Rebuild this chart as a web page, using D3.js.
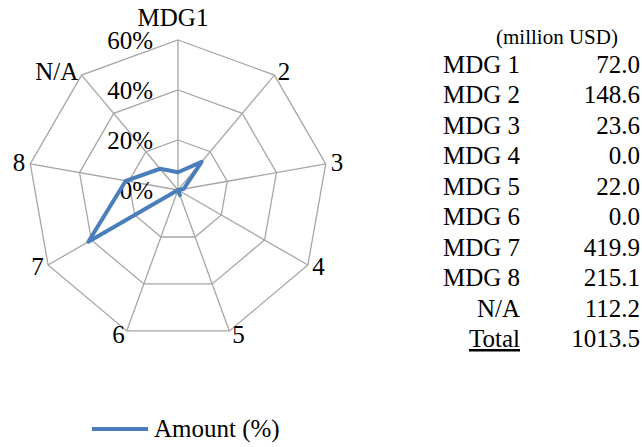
<!DOCTYPE html>
<html>
<head>
<meta charset="utf-8">
<script src="https://cdn.jsdelivr.net/npm/d3@7"></script>
<style>
  body { margin: 0; background: #fff; }
</style>
</head>
<body>
<div id="chart"></div>
<script>
// axis names around the radar (clockwise from top)
var axisLabels = ["MDG1", "2", "3", "4", "5", "6", "7", "8", "N/A"];
// share of total amount, percent
var amountPct = [7.1, 14.7, 2.3, 0.0, 2.2, 0.0, 41.4, 21.2, 11.1];
var tickValues = [0, 20, 40, 60];

// table on the right
var tableNames = ["MDG 1", "MDG 2", "MDG 3", "MDG 4", "MDG 5", "MDG 6", "MDG 7", "MDG 8", "N/A", "Total"];
var tableAmounts = ["72.0", "148.6", "23.6", "0.0", "22.0", "0.0", "419.9", "215.1", "112.2", "1013.5"];

var svgWidth = 642;
var svgHeight = 447;

var cx = 178, cy = 190, R = 150;

// pick a serif font that is really installed
function hasFont(name) {
  var ctx = document.createElement("canvas").getContext("2d");
  var s = "MDG1 Total 0123456789 (million USD) %";
  return ["monospace", "sans-serif"].some(function(base) {
    ctx.font = "40px " + base;
    var w0 = ctx.measureText(s).width;
    ctx.font = "40px '" + name + "', " + base;
    return ctx.measureText(s).width !== w0;
  });
}
var serifList = ["Liberation Serif", "Times New Roman", "Tinos", "DejaVu Serif", "Noto Serif", "FreeSerif", "Nimbus Roman"];
var found = serifList.filter(hasFont)[0];
var fontFamily = found ? "'" + found + "', serif" : "'Liberation Sans', Arial, sans-serif";
var fs = found ? 25 : 23;      // main text size
var fsSmall = found ? 21 : 19; // "(million USD)"

var svg = d3.select("#chart")
  .append("svg")
  .attr("width", svgWidth)
  .attr("height", svgHeight)
  .style("font-family", fontFamily);

var rScale = d3.scaleLinear()
  .domain([0, 60])
  .range([0, R]);

var angle = d3.scalePoint()
  .domain(d3.range(axisLabels.length + 1))
  .range([0, 2 * Math.PI]);

function px(i, v) { return cx + rScale(v) * Math.sin(angle(i)); }
function py(i, v) { return cy - rScale(v) * Math.cos(angle(i)); }

var chartGroup = svg.append("g");

// grid rings
tickValues.filter(t => t > 0).forEach(function(t) {
  var pts = axisLabels.map((d, i) => [px(i, t), py(i, t)]);
  chartGroup.append("polygon")
    .attr("points", pts.map(p => p.join(",")).join(" "))
    .attr("fill", "none")
    .attr("stroke", "#a6a6a6")
    .attr("stroke-width", 1.3);
});

// spokes
chartGroup.selectAll("line.spoke")
  .data(axisLabels)
  .enter()
  .append("line")
  .attr("x1", cx).attr("y1", cy)
  .attr("x2", (d, i) => px(i, 60))
  .attr("y2", (d, i) => py(i, 60))
  .attr("stroke", "#a6a6a6")
  .attr("stroke-width", 1.3);

// tick labels
chartGroup.selectAll("text.tick")
  .data(tickValues)
  .enter()
  .append("text")
  .attr("x", cx - 25)
  .attr("y", d => cy - rScale(d) + 9)
  .attr("text-anchor", "end")
  .style("font-size", fs + "px")
  .text(d => d + "%");

// category labels
chartGroup.selectAll("text.cat")
  .data(axisLabels)
  .enter()
  .append("text")
  .attr("x", function(d, i) {
    var s = Math.sin(angle(i));
    if (Math.abs(s) < 0.1) return px(i, 60) - 5;
    return px(i, 60) + (s > 0 ? Math.max(3, 5 * s) : Math.min(-2, 5 * s));
  })
  .attr("y", function(d, i) {
    var c = Math.cos(angle(i));
    return py(i, 60) + (c > 0.9 ? -14 : 8 - 4 * c);
  })
  .attr("text-anchor", function(d, i) {
    var s = Math.sin(angle(i));
    return Math.abs(s) < 0.1 ? "middle" : (s > 0 ? "start" : "end");
  })
  .style("font-size", fs + "px")
  .text(d => d);

// series line
var radarLine = d3.lineRadial()
  .angle((d, i) => angle(i))
  .radius(d => rScale(d))
  .curve(d3.curveLinearClosed);

chartGroup.append("path")
  .datum(amountPct)
  .attr("transform", `translate(${cx}, ${cy})`)
  .attr("d", radarLine)
  .attr("fill", "none")
  .attr("stroke", "#4a7ebb")
  .attr("stroke-width", 4)
  .attr("stroke-linejoin", "round");

// legend
var legend = svg.append("g").attr("transform", "translate(92, 429)");
legend.append("line")
  .attr("x1", 0).attr("x2", 56)
  .attr("stroke", "#4a7ebb")
  .attr("stroke-width", 4);
legend.append("text")
  .attr("x", 62).attr("y", 8)
  .style("font-size", fs + "px")
  .text("Amount (%)");

// table
var rowY = d3.scalePoint()
  .domain(tableNames)
  .range([72.5, 347]);

svg.append("text")
  .attr("x", 557).attr("y", 44)
  .attr("text-anchor", "middle")
  .style("font-size", fsSmall + "px")
  .text("(million USD)");

svg.selectAll("text.name")
  .data(tableNames)
  .enter()
  .append("text")
  .attr("x", 520)
  .attr("y", d => rowY(d))
  .attr("text-anchor", "end")
  .style("font-size", fs + "px")
  .style("text-decoration", d => d === "Total" ? "underline" : null)
  .text(d => d);

svg.selectAll("text.amt")
  .data(tableAmounts)
  .enter()
  .append("text")
  .attr("x", 640)
  .attr("y", (d, i) => rowY(tableNames[i]))
  .attr("text-anchor", "end")
  .style("font-size", fs + "px")
  .text(d => d);
</script>
</body>
</html>
